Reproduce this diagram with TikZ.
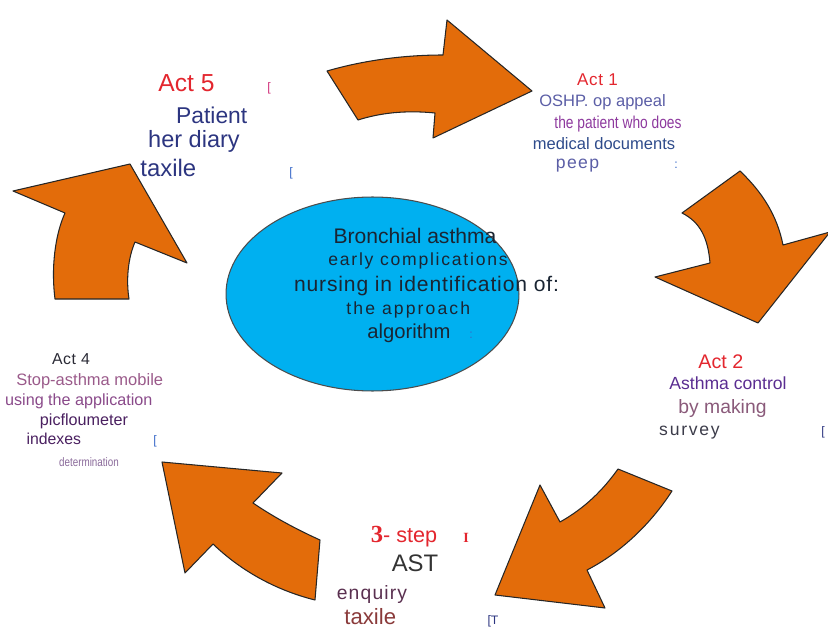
\documentclass[tikz,border=0pt]{standalone}
\usepackage{fontspec}
\setmainfont{Liberation Sans}
\newfontfamily\serifnum{Liberation Serif}
\newfontfamily\narrowsans[FakeStretch=0.8]{Liberation Sans}
\usepackage{xcolor}
\usepackage{tikz}
\usetikzlibrary{shapes.geometric}
\definecolor{CycleOrange}{HTML}{E36C0A}
\definecolor{HubCyan}{HTML}{00B0F0}
\definecolor{HubInk}{HTML}{1A2533}
\definecolor{ActRed}{HTML}{E3262E}
\definecolor{DiaryNavy}{HTML}{2C3580}
\definecolor{DocSlate}{HTML}{5B5EA6}
\definecolor{DocPlum}{HTML}{8E3A9E}
\definecolor{DocBlue}{HTML}{2E4B8B}
\definecolor{CtrlViolet}{HTML}{5A2D91}
\definecolor{CtrlMauve}{HTML}{8A5A7A}
\definecolor{CtrlGrey}{HTML}{3C3C4A}
\definecolor{AstGrey}{HTML}{333333}
\definecolor{AstWine}{HTML}{5A3050}
\definecolor{AstBrown}{HTML}{8A3A3A}
\definecolor{MobInk}{HTML}{2A2A35}
\definecolor{MobRose}{HTML}{9A5A8A}
\definecolor{MobPlum}{HTML}{8A4A8A}
\definecolor{MobDeep}{HTML}{4A2060}
\definecolor{MobLilac}{HTML}{8A6A9A}
\definecolor{StrayBlue}{HTML}{3A6AC8}
\definecolor{StrayPink}{HTML}{D0307A}
\newcommand\fsz[1]{\fontsize{#1}{#1}\selectfont}
\newcommand\spaced[1]{\addfontfeatures{LetterSpace=#1}}

\begin{document}
\begin{tikzpicture}[x=0.02cm, y=-0.02cm,
  blockarrow/.style={draw=black!85, fill=CycleOrange, line width=0.6pt,
                     line join=round},
  hub/.style={ellipse, draw=black!70, fill=HubCyan, line width=0.6pt,
              minimum width=5.86cm, minimum height=3.88cm, inner sep=0pt},
  lbl/.style={anchor=base, inner sep=0pt},
  stray/.style={anchor=base, inner sep=0pt, font=\fsz{7}, text=StrayBlue},
]
\useasboundingbox (0,0) rectangle (828,628);

%% ---- centre ----
\node[hub] (hub) at (372.5,294) {};
\node[lbl, text=HubInk, font=\fsz{12}] (c1) at (415,243.3) {Bronchial asthma};
\node[lbl, text=HubInk, font={\fsz{10}\spaced{10}}] (c2) at (418,265)
  {early complications};
\node[lbl, text=HubInk, font={\fsz{12}\spaced{4}}] (c3) at (426.5,291.7)
  {nursing in identification of:};
\node[lbl, text=HubInk, font={\fsz{10}\spaced{12}}] (c4) at (408.3,314)
  {the approach};
\node[lbl, text=HubInk, font=\fsz{11.5}] (c5) at (409,338.3) {algorithm};
\node[stray] (c5s) at (471,338.3) {:};

%% ---- cycle arrows ----
% top, towards act 1
\filldraw[blockarrow] (327,71) .. controls (365,60) and (405,55) .. (443,55)
  -- (447,20) -- (532,91) -- (433,138) -- (435,113)
  .. controls (405,110) and (380,113) .. (358,120) -- cycle;
% right, towards act 2
\filldraw[blockarrow] (740,171) .. controls (762,192) and (777,215) .. (783,245)
  -- (830,232) -- (758,323) -- (655,277) -- (710,263)
  .. controls (708,238) and (700,222) .. (682,213) -- cycle;
% bottom right, towards step 3
\filldraw[blockarrow] (618,469) .. controls (603,490) and (585,508) .. (560,522)
  -- (540,485) -- (495,595) -- (605,608) -- (587,570)
  .. controls (620,553) and (650,525) .. (672,491) -- cycle;
% bottom left, towards act 4
\filldraw[blockarrow] (162,462) -- (282,473) -- (253,503)
  .. controls (275,518) and (298,530) .. (320,540) -- (315,600)
  .. controls (275,590) and (240,570) .. (213,544) -- (185,573) -- cycle;
% left, towards act 5
\filldraw[blockarrow] (55,299) -- (129,299)
  .. controls (126,280) and (128,258) .. (135,242) -- (187,263)
  -- (130,164) -- (13,191) -- (65,213)
  .. controls (55,235) and (51,268) .. (55,299) -- cycle;

%% ---- act 5 (top left) ----
\node[lbl, text=ActRed, font=\fsz{14}] (a5) at (186.5,91.7) {Act 5};
\node[stray, text=StrayPink] (a5s) at (269,91.7) {[};
\node[lbl, text=DiaryNavy, font=\fsz{13}] (a5p) at (211.7,123.3) {Patient};
\node[lbl, text=DiaryNavy, font=\fsz{13.4}] (a5d) at (194,147.3) {her diary};
\node[lbl, text=DiaryNavy, font=\fsz{13.6}] (a5t) at (168.3,176.7) {taxile};
\node[stray] (a5ts) at (291,176.7) {[};

%% ---- act 1 (top right) ----
\node[lbl, text=ActRed, font={\fsz{9.7}\spaced{4}}] (a1) at (597.5,86) {Act 1};
\node[lbl, text=DocSlate, font=\fsz{9.4}] (a1o) at (602.5,106.7) {OSHP. op appeal};
\node[lbl, text=DocPlum, font={\fsz{9.8}\narrowsans}] (a1p) at (618,128.3)
  {the patient who does};
\node[lbl, text=DocBlue, font=\fsz{9.4}] (a1m) at (604,150) {medical documents};
\node[lbl, text=DocSlate, font={\fsz{10}\spaced{8}}] (a1e) at (577.5,168.3) {peep};
\node[stray] (a1s) at (676,168.3) {:};

%% ---- act 2 (right) ----
\node[lbl, text=ActRed, font=\fsz{11.2}] (a2) at (720.8,368.3) {Act 2};
\node[lbl, text=CtrlViolet, font=\fsz{10}] (a2c) at (728,389.3) {Asthma control};
\node[lbl, text=CtrlMauve, font=\fsz{11}] (a2m) at (722.5,413.3) {by making};
\node[lbl, text=CtrlGrey, font={\fsz{10}\spaced{10}}] (a2s) at (689.5,435.7) {survey};
\node[stray, text=DiaryNavy] (a2ss) at (823,435.7) {[};

%% ---- step 3 (bottom) ----
\node[lbl, text=ActRed, font=\fsz{12.3}] (a3) at (404,542.7)
  {{\serifnum\bfseries\fsz{14}3}- step};
\node[stray, text=ActRed, font={\fsz{8}\serifnum\bfseries}] (a3s) at (466,542.7) {I};
\node[lbl, text=AstGrey, font=\fsz{13.6}] (a3a) at (415,571.7) {AST};
\node[lbl, text=AstWine, font={\fsz{11}\spaced{6}}] (a3e) at (372,599) {enquiry};
\node[lbl, text=AstBrown, font=\fsz{12.6}] (a3t) at (370.3,624) {taxile};
\node[stray, text=DiaryNavy] (a3ts) at (493,624) {[T};

%% ---- act 4 (left) ----
\node[lbl, text=MobInk, font={\fsz{9}\spaced{4}}] (a4) at (71,364) {Act 4};
\node[lbl, text=MobRose, font=\fsz{9.4}] (a4s) at (89.7,385) {Stop-asthma mobile};
\node[lbl, text=MobPlum, font=\fsz{9.2}] (a4u) at (78.8,405) {using the application};
\node[lbl, text=MobDeep, font=\fsz{9.2}] (a4p) at (84,425) {picfloumeter};
\node[lbl, text=MobDeep, font=\fsz{9}] (a4i) at (53.8,444.3) {indexes};
\node[stray] (a4is) at (155,444.3) {[};
\node[lbl, text=MobLilac, font={\fsz{7}\narrowsans}] (a4d) at (89,466) {determination};
\end{tikzpicture}
\end{document}
